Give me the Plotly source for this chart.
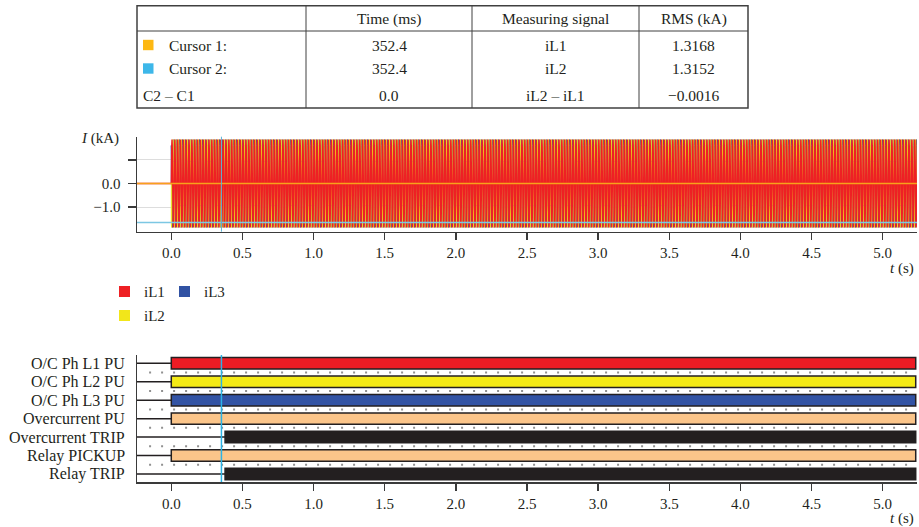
import numpy as np
import plotly.graph_objects as go

W, H = 919, 527
def px(x): return x / W
def py(y): return 1 - y / H

FONT = "Liberation Serif"
INK = "#231F20"
AX = "#3a3a3a"

# ---------------- data ----------------
table_header = ["", "Time (ms)", "Measuring signal", "RMS (kA)"]
row_names = ["Cursor 1:", "Cursor 2:", "C2 \u2013 C1"]
row_times = ["352.4", "352.4", "0.0"]
row_signals = ["iL1", "iL2", "iL2 \u2013 iL1"]
row_rms = ["1.3168", "1.3152", "\u22120.0016"]
cursor_colors = ["#FDB813", "#3DB7E9", None]

cursor_time_s = 0.3524
cursor1_level = 0.0
cursor2_level = -1.65

phase_names = ["iL1", "iL2", "iL3"]
phase_colors = ["#EE2024", "#F2E61A", "#3152A3"]
# one 50 Hz cycle of each phase current (kA), sampled every 1/12 cycle
cycle_iL1 = [0.0, 0.931, 1.612, 1.862, 1.612, 0.931, 0.0, -0.931, -1.612, -1.862, -1.612, -0.931]
cycle_iL2 = [-1.611, -1.860, -1.611, -0.930, 0.0, 0.930, 1.611, 1.860, 1.611, 0.930, 0.0, -0.930]
cycle_iL3 = [1.611, 0.930, 0.0, -0.930, -1.611, -1.860, -1.611, -0.930, 0.0, 0.930, 1.611, 1.860]
cycle_period_s = 0.02
fault_start_s = 0.0
record_end_s = 5.232
prefault_start_s = -0.25

x_ticks = [0.0, 0.5, 1.0, 1.5, 2.0, 2.5, 3.0, 3.5, 4.0, 4.5, 5.0]
x_ticklabels = ["0.0", "0.5", "1.0", "1.5", "2.0", "2.5", "3.0", "3.5", "4.0", "4.5", "5.0"]
y_ticks = [1.0, 0.0, -1.0]
y_ticklabels = ["", "0.0", "\u22121.0"]

signals = ["O/C Ph L1 PU", "O/C Ph L2 PU", "O/C Ph L3 PU", "Overcurrent PU",
           "Overcurrent TRIP", "Relay PICKUP", "Relay TRIP"]
signal_on = [0.0, 0.0, 0.0, 0.0, 0.378, 0.0, 0.378]
signal_off = [5.232] * 7
signal_colors = ["#ED1C24", "#F4EA16", "#3253A4", "#FBC58A", "#231F20", "#FBC58A", "#231F20"]

XR = [-0.241, 5.241]

fig = go.Figure()

# ---------------- waveforms ----------------
widths = {"iL1": 1.4, "iL2": 1.0, "iL3": 1.0}
n_cycles = int(np.ceil((record_end_s - fault_start_s) / cycle_period_s)) + 1
for name, cyc, col in reversed(list(zip(phase_names, [cycle_iL1, cycle_iL2, cycle_iL3], phase_colors))):
    spc = len(cyc)
    dt = cycle_period_s / spc
    t = fault_start_s + np.arange(n_cycles * spc) * dt
    y = np.tile(cyc, n_cycles)
    t = np.concatenate([[prefault_start_s, fault_start_s], t])
    y = np.concatenate([[0.0, 0.0], y])
    fig.add_trace(go.Scatter(x=t, y=y, mode="lines", name=name, showlegend=False,
                             line=dict(color=col, width=widths[name], simplify=False),
                             xaxis="x", yaxis="y", hoverinfo="skip"))

# ---------------- digital signals ----------------
n = len(signals)
rows = [n - 1 - i for i in range(n)]
fig.add_trace(go.Bar(orientation="h", y=rows,
                     x=[b - a for a, b in zip(signal_on, signal_off)], base=signal_on,
                     width=0.62, marker=dict(color=signal_colors, line=dict(color=INK, width=1.5)),
                     xaxis="x2", yaxis="y2", showlegend=False, hoverinfo="skip"))
lx, ly = [], []
for r, a in zip(rows, signal_on):
    lx += [XR[0], a, None]
    ly += [r, r, None]
fig.add_trace(go.Scatter(x=lx, y=ly, mode="lines", line=dict(color=INK, width=1.5),
                         xaxis="x2", yaxis="y2", showlegend=False, hoverinfo="skip"))

shapes = []
annotations = []

# cursor / level lines top plot
shapes.append(dict(type="line", xref="x", yref="y", x0=XR[0], x1=XR[1], y0=cursor1_level, y1=cursor1_level,
                   line=dict(color="#F7A21B", width=1.5), layer="above"))
shapes.append(dict(type="line", xref="x", yref="y", x0=XR[0], x1=XR[1], y0=cursor2_level, y1=cursor2_level,
                   line=dict(color="#7CC7E3", width=1.5), layer="above"))
shapes.append(dict(type="line", xref="x", yref="y domain", x0=cursor_time_s, x1=cursor_time_s, y0=0, y1=1,
                   line=dict(color="#5AB4D8", width=1), layer="above"))

# dotted separators bottom plot
for k in range(n - 1):
    yv = k + 0.5
    shapes.append(dict(type="line", xref="x2", yref="y2", x0=XR[0] + 0.085, x1=XR[1], y0=yv, y1=yv,
                       line=dict(color="#909090", width=2, dash="2px,10px"), layer="below"))
shapes.append(dict(type="line", xref="x2", yref="y2 domain", x0=cursor_time_s, x1=cursor_time_s, y0=0, y1=1,
                   line=dict(color="#2BB3E6", width=1.5), layer="above"))

# row labels
for r, s in zip(rows, signals):
    annotations.append(dict(xref="paper", yref="y2", x=px(127.5), y=r, text=s, showarrow=False,
                            xanchor="right", yanchor="middle", font=dict(family=FONT, size=16, color=INK)))

# ---------------- table ----------------
T_L, T_R, T_T, T_B = 137, 748, 5.7, 108
col_x = [T_L, 306, 472, 639, T_R]
hdr_line = 31
tl = dict(color="#404040", width=1)
shapes.append(dict(type="rect", xref="paper", yref="paper", x0=px(T_L), x1=px(T_R), y0=py(T_B), y1=py(T_T),
                   line=dict(color="#404040", width=1.5)))
shapes.append(dict(type="line", xref="paper", yref="paper", x0=px(T_L), x1=px(T_R), y0=py(hdr_line), y1=py(hdr_line), line=tl))
for cx in col_x[1:-1]:
    shapes.append(dict(type="line", xref="paper", yref="paper", x0=px(cx), x1=px(cx), y0=py(T_B), y1=py(T_T), line=tl))
tfont = dict(family=FONT, size=15.5, color=INK)
hdr_y = 19
for j in range(1, 4):
    annotations.append(dict(xref="paper", yref="paper", x=px((col_x[j] + col_x[j + 1]) / 2), y=py(hdr_y),
                            text=table_header[j], showarrow=False, xanchor="center", yanchor="middle", font=tfont))
row_y = [45, 68.5, 95]
for i in range(3):
    if cursor_colors[i]:
        shapes.append(dict(type="rect", xref="paper", yref="paper", x0=px(143), x1=px(153.5),
                           y0=py(row_y[i] + 5.2), y1=py(row_y[i] - 5.2),
                           fillcolor=cursor_colors[i], line=dict(width=0)))
        nx = 167
    else:
        nx = 141
    annotations.append(dict(xref="paper", yref="paper", x=px(nx), y=py(row_y[i]), text=row_names[i],
                            showarrow=False, xanchor="left", yanchor="middle", font=tfont))
    for j, vals in zip(range(1, 4), [row_times, row_signals, row_rms]):
        annotations.append(dict(xref="paper", yref="paper", x=px((col_x[j] + col_x[j + 1]) / 2), y=py(row_y[i]),
                                text=vals[i], showarrow=False, xanchor="center", yanchor="middle", font=tfont))

# ---------------- legend ----------------
lfont = dict(family=FONT, size=15, color=INK)
leg_pos = {"iL1": (119, 291.5), "iL2": (119, 315.5), "iL3": (179, 291.5)}
for name, col in zip(phase_names, phase_colors):
    lxp, lyp = leg_pos[name]
    shapes.append(dict(type="rect", xref="paper", yref="paper", x0=px(lxp), x1=px(lxp + 11),
                       y0=py(lyp + 5.5), y1=py(lyp - 5.5), fillcolor=col, line=dict(width=0)))
    annotations.append(dict(xref="paper", yref="paper", x=px(lxp + 23), y=py(lyp), text=name, showarrow=False,
                            xanchor="left", yanchor="middle", font=lfont))

# axis titles
annotations.append(dict(xref="paper", yref="paper", x=px(121), y=py(138), text="<i>I</i> (kA)", showarrow=False,
                        xanchor="right", yanchor="middle", font=lfont))
for yy in [268, 518]:
    annotations.append(dict(xref="paper", yref="paper", x=px(916), y=py(yy), text="<i>t</i> (s)", showarrow=False,
                            xanchor="right", yanchor="middle", font=lfont))

xcommon = dict(range=XR, tickvals=x_ticks, ticktext=x_ticklabels, showline=True, linecolor=AX, linewidth=1.5,
               ticks="outside", ticklen=7, tickwidth=1.5, tickcolor=AX, showgrid=False, zeroline=False,
               tickfont=dict(family=FONT, size=15, color=INK), fixedrange=True)

fig.update_layout(
    width=W, height=H, margin=dict(l=0, r=0, t=0, b=0),
    paper_bgcolor="white", plot_bgcolor="white", showlegend=False, barmode="overlay",
    xaxis=dict(domain=[px(137), px(917)], anchor="y", **xcommon),
    yaxis=dict(domain=[py(231.7), py(136.7)], range=[-2.042, 1.983], anchor="x",
               tickvals=y_ticks, ticktext=y_ticklabels, showline=True, linecolor=AX, linewidth=1.5,
               ticks="outside", ticklen=8, tickwidth=1.5, tickcolor=AX, showgrid=True, gridcolor="#DDDDDD",
               gridwidth=1, zeroline=False, tickfont=dict(family=FONT, size=15, color=INK),
               ticklabelstandoff=4, fixedrange=True),
    xaxis2=dict(domain=[px(137), px(917)], anchor="y2", **xcommon),
    yaxis2=dict(domain=[py(482), py(355)], range=[-0.435, 6.45], anchor="x2", showline=True, linecolor=AX,
                linewidth=1.5, showticklabels=False, ticks="", showgrid=False, zeroline=False, fixedrange=True),
    shapes=shapes, annotations=annotations,
)

fig.write_html("out.html", config={"displayModeBar": False, "staticPlot": True},
               post_script="document.body.style.margin='0px';document.body.style.overflow='hidden';")
